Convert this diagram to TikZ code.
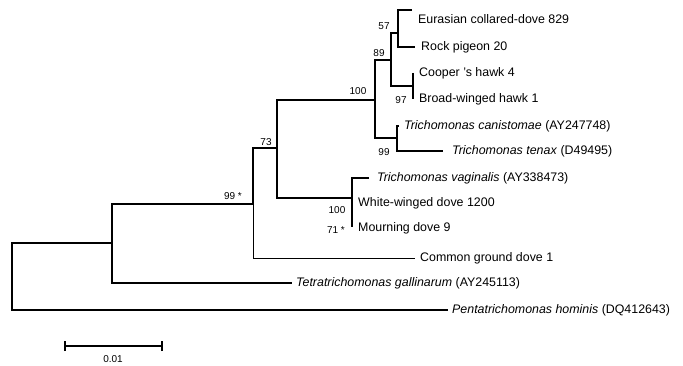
\documentclass[tikz,border=0pt]{standalone}
\usepackage{fontspec}
\setmainfont{Liberation Sans}
\begin{document}
\begin{tikzpicture}[x=1pt,y=-1pt,
  br/.style={line width=1.1pt},
  thk/.style={line width=1.6pt},
  thn/.style={line width=0.7pt},
  tip/.style={anchor=west,inner sep=0pt,font=\fontsize{12.4}{14}\selectfont},
  bs/.style={inner sep=0pt,font=\fontsize{10}{12}\selectfont}]
\useasboundingbox (0,0) rectangle (683,366);
% internal nodes
\coordinate (R) at (12,276);
\coordinate (B) at (112,243);
\coordinate (C) at (253,204);
\coordinate (D) at (277,148);
\coordinate (E) at (375,100);
\coordinate (F) at (391,60);
\coordinate (G) at (398,33);
\coordinate (H) at (413,86);
\coordinate (I) at (397,138);
\coordinate (J) at (352,198);
% tips
\coordinate (tEur) at (412,10);
\coordinate (tRock) at (415,47);
\coordinate (tCoop) at (413,73);
\coordinate (tBroad) at (413,99);
\coordinate (tCan) at (399,126);
\coordinate (tTen) at (443,151);
\coordinate (tVag) at (369,178);
\coordinate (tMourn) at (352,227);
\coordinate (tCom) at (415,258);
\coordinate (tTet) at (292,283);
\coordinate (tPen) at (448,310);
% branches
\draw[br] (tEur) -| (G) |- (tRock);
\draw[br] (tCoop) -- (tBroad);
\draw[br] (G) -| (F) |- (H);
\draw[br] (tCan) -| (I) |- (tTen);
\draw[br] (F) -| (E) |- (I);
\draw[br] (tVag) -| (J) |- (tMourn);
\draw[br] (E) -| (D) |- (J);
\draw[br] (D) -| (C);
\draw[thn] (C) |- (tCom);
\draw[thk] (C) -| (B) |- (tTet);
\draw[thk] (B) -| (R) |- (tPen);
% tip labels
\node[tip] (nEur) at (418,19) {Eurasian collared-dove 829};
\node[tip] (nRock) at (421,47) {Rock pigeon 20};
\node[tip] (nCoop) at (419,73) {Cooper ’s hawk 4};
\node[tip] (nBroad) at (419,99) {Broad-winged hawk 1};
\node[tip] (nCan) at (404,126) {\textit{Trichomonas canistomae} (AY247748)};
\node[tip] (nTen) at (452,151) {\textit{Trichomonas tenax} (D49495)};
\node[tip] (nVag) at (377,178) {\textit{Trichomonas vaginalis} (AY338473)};
\node[tip] (nWhite) at (358,203) {White-winged dove 1200};
\node[tip] (nMourn) at (358,228) {Mourning dove 9};
\node[tip] (nCom) at (420,258) {Common ground dove 1};
\node[tip] (nTet) at (296,283) {\textit{Tetratrichomonas gallinarum} (AY245113)};
\node[tip] (nPen) at (452,310) {\textit{Pentatrichomonas hominis} (DQ412643)};
% bootstrap values
\node[bs] (b57) at (384,26) {57};
\node[bs] (b89) at (379,53) {89};
\node[bs] (b100a) at (358,91) {100};
\node[bs] (b97) at (401,100) {97};
\node[bs] (b99a) at (384,152) {99};
\node[bs] (b73) at (266,142) {73};
\node[bs] (b99b) at (233,196) {99 *};
\node[bs] (b100b) at (337,210) {100};
\node[bs] (b71) at (336,230) {71 *};
% scale bar
\coordinate (s1) at (65,346);
\coordinate (s2) at (162,346);
\draw[br] (s1) -- (s2);
\draw[br] ([yshift=-5pt]s1) -- ([yshift=5pt]s1);
\draw[br] ([yshift=-5pt]s2) -- ([yshift=5pt]s2);
\node[bs] (sl) at (113,359) {0.01};
\end{tikzpicture}
\end{document}
